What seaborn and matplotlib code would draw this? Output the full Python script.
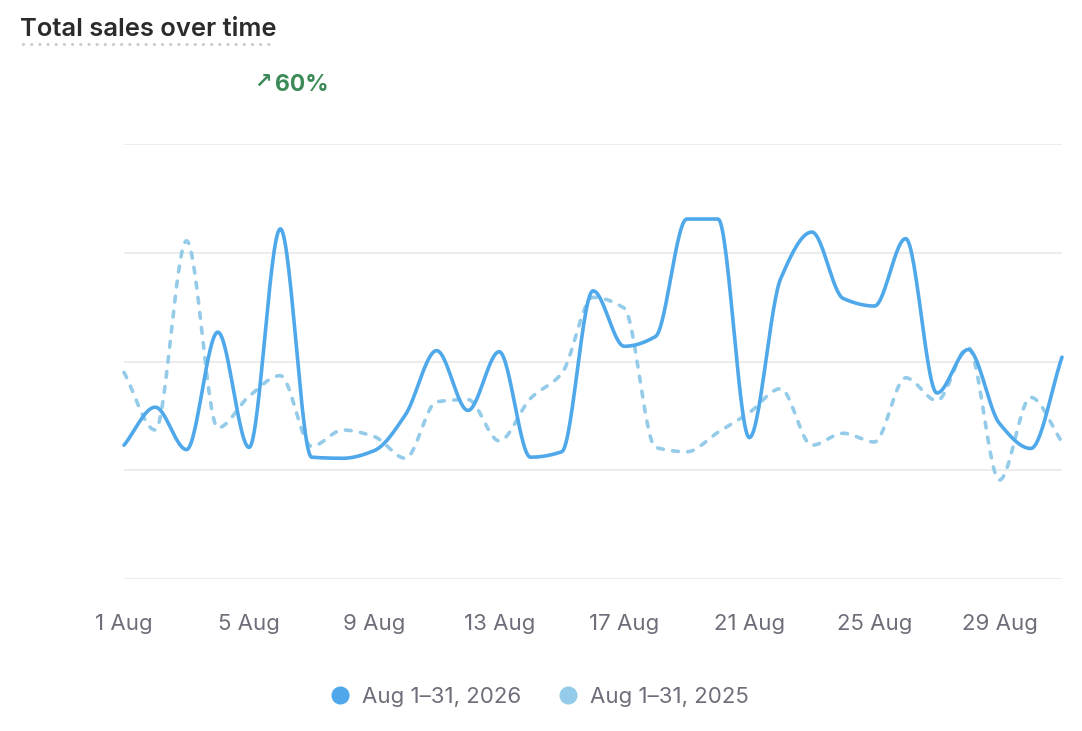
import numpy as np
import pandas as pd
import matplotlib
matplotlib.use("Agg")
import matplotlib.pyplot as plt
import seaborn as sns
from matplotlib.lines import Line2D

# ==========================================
# DATA
# ==========================================

days = list(range(1, 32))

sales_2026 = [123, 158, 119, 227, 121, 322, 112, 111, 118, 151,
              210, 155, 209, 112, 117, 265, 214, 223, 331, 331,
              130, 276, 319, 258, 251, 313, 171, 211, 143, 120, 204]

sales_2025 = [190, 137, 311, 139, 168, 187, 122, 137, 131, 111,
              163, 165, 127, 166, 189, 259, 249, 121, 117, 135,
              153, 175, 123, 134, 126, 185, 164, 213, 91, 167, 126]

tick_days = [1, 5, 9, 13, 17, 21, 25, 29]
tick_labels = [f"{d} Aug" for d in tick_days]

series_names = ["Aug 1–31, 2026", "Aug 1–31, 2025"]
change_label = "60%"

# ==========================================
# SMOOTH CURVE (monotone cubic, like the dashboard)
# ==========================================

def monotone_curve(x, y, n=30):
    x = np.asarray(x, float)
    y = np.asarray(y, float)
    h = np.diff(x)
    s = np.diff(y) / h
    m = np.zeros_like(y)
    for i in range(1, len(y) - 1):
        if s[i - 1] * s[i] > 0:
            m[i] = 2 / (1 / s[i - 1] + 1 / s[i])
    m[0] = s[0]
    m[-1] = s[-1]
    xs, ys = [], []
    for i in range(len(x) - 1):
        t = np.linspace(0, 1, n, endpoint=False)
        h00 = 2 * t**3 - 3 * t**2 + 1
        h10 = t**3 - 2 * t**2 + t
        h01 = -2 * t**3 + 3 * t**2
        h11 = t**3 - t**2
        xs.append(x[i] + t * h[i])
        ys.append(h00 * y[i] + h10 * h[i] * m[i] + h01 * y[i + 1] + h11 * h[i] * m[i + 1])
    xs.append([x[-1]])
    ys.append([y[-1]])
    return np.concatenate(xs), np.concatenate(ys)

frames = []
for name, vals in zip(series_names, [sales_2026, sales_2025]):
    cx, cy = monotone_curve(days, vals)
    frames.append(pd.DataFrame({"day": cx, "sales": cy, "period": name}))
df = pd.concat(frames, ignore_index=True)

# ==========================================
# PLOT
# ==========================================

sns.set_style("white")
plt.rcParams["font.family"] = ["Inter", "DejaVu Sans"]

col_now = "#4ea8ea"
col_prev = "#94cbe9"
grey_txt = "#6e6e7a"

fig = plt.figure(figsize=(10.82, 7.31), dpi=100)
ax = fig.add_axes([124 / 1082, 1 - 579 / 731, (1062 - 124) / 1082, (579 - 144) / 731])

sns.lineplot(
    data=df,
    x="day",
    y="sales",
    hue="period",
    style="period",
    palette={series_names[0]: col_now, series_names[1]: col_prev},
    dashes={series_names[0]: "", series_names[1]: (1.6, 2.6)},
    hue_order=series_names[::-1],
    linewidth=2.6,
    legend=False,
    ax=ax,
    estimator=None,
    sort=False,
)
for ln in ax.get_lines():
    ln.set_dash_capstyle("round")
    ln.set_solid_capstyle("round")
    ln.set_clip_on(False)

ax.set_xlim(1, 31)
ax.set_ylim(0, 400)
ax.set_yticks([0, 100, 200, 300, 400])
ax.set_yticklabels([])
ax.grid(axis="y", color="#ebebeb", linewidth=1.3)
ax.set_axisbelow(True)
ax.set_xticks(tick_days)
ax.set_xticklabels(tick_labels)
ax.tick_params(axis="x", length=0, pad=25.5, labelsize=16, labelcolor=grey_txt)
ax.tick_params(axis="y", length=0)
ax.set_xlabel("")
ax.set_ylabel("")
sns.despine(ax=ax, left=True, bottom=True)

# title with dotted underline
fig.text(20 / 1082, 1 - 29 / 731, "Total sales over time", fontsize=18.4,
         fontweight="semibold", color="#2b2b2b", va="center", ha="left")
fig.add_artist(Line2D([23 / 1082, 274 / 1082], [1 - 44 / 731, 1 - 44 / 731],
                      color="#cccccc", linewidth=2.3, linestyle=(0, (0.01, 2.55)),
                      dash_capstyle="round", transform=fig.transFigure))

# change badge
fig.text(254 / 1082, 1 - 82 / 731, "↗", fontsize=15, fontweight="bold",
         color="#3b8a57", va="center", ha="left", family=["DejaVu Sans"])
fig.text(275 / 1082, 1 - 85 / 731, change_label, fontsize=16.5, fontweight="bold",
         color="#3b8a57", va="center", ha="left")

# legend
handles = [Line2D([], [], marker="o", linestyle="", markersize=12,
                  markerfacecolor=c, markeredgecolor=c) for c in [col_now, col_prev]]
fig.legend(handles, series_names, loc="center", bbox_to_anchor=(539 / 1082, 1 - 697 / 731),
           ncol=2, frameon=False, fontsize=16, labelcolor=grey_txt,
           handletextpad=0.5, columnspacing=1.6, handlelength=1.0)

plt.savefig("out.png", dpi=100)
